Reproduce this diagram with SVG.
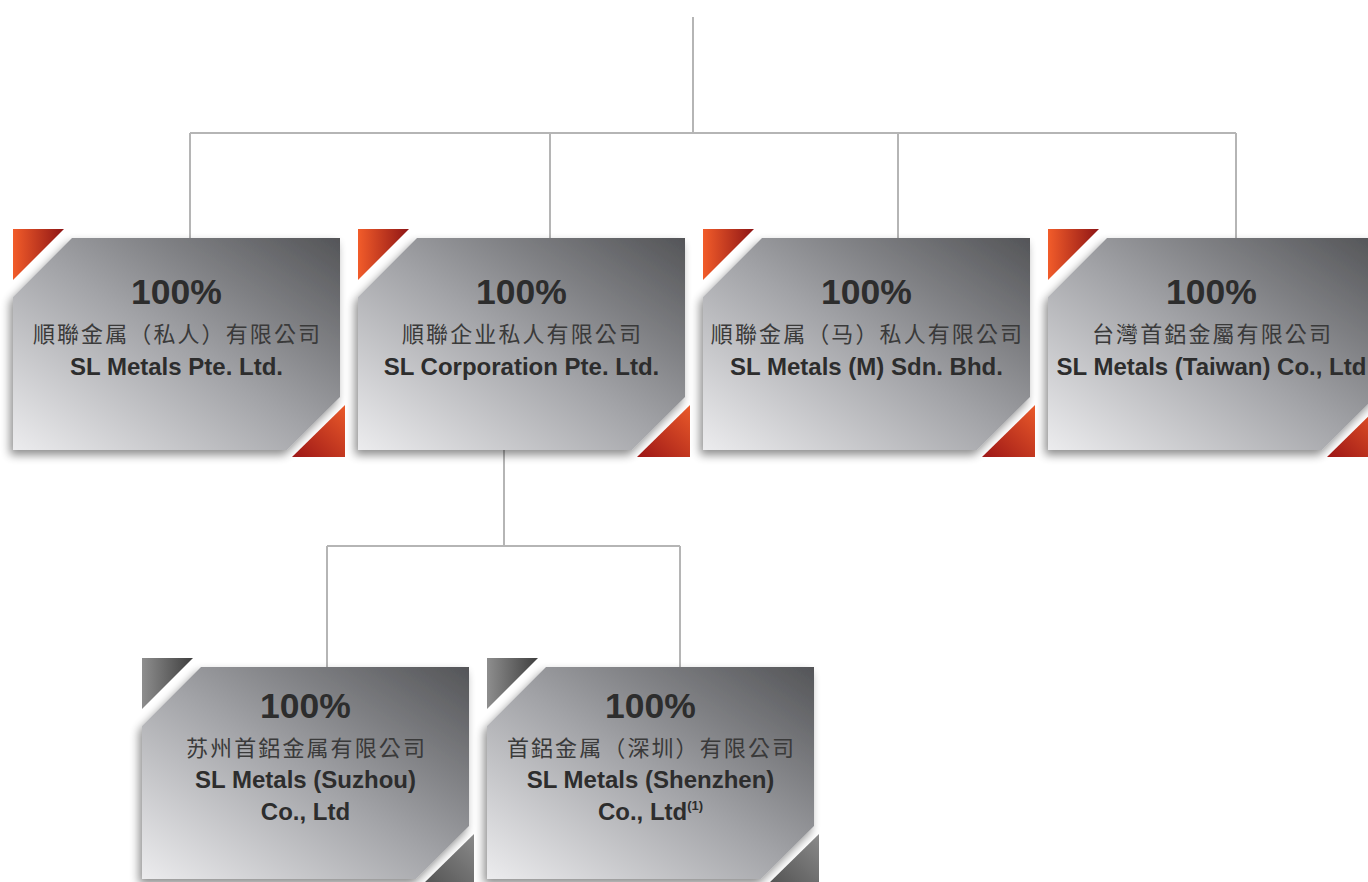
<svg xmlns="http://www.w3.org/2000/svg" xmlns:xlink="http://www.w3.org/1999/xlink" width="1368" height="882" viewBox="0 0 1368 882">
<defs>
<linearGradient id="boxGrad" x1="0" y1="1" x2="1" y2="0">
<stop offset="0" stop-color="#ececee"/>
<stop offset="0.5" stop-color="#a2a3a7"/>
<stop offset="1" stop-color="#545558"/>
</linearGradient>
<linearGradient id="redTL" x1="0" y1="0" x2="1" y2="0">
<stop offset="0" stop-color="#f25c2a"/>
<stop offset="1" stop-color="#8e1515"/>
</linearGradient>
<linearGradient id="redBR" x1="1" y1="0" x2="0" y2="1">
<stop offset="0" stop-color="#ea5a2a"/>
<stop offset="1" stop-color="#9c1616"/>
</linearGradient>
<linearGradient id="grayTL" x1="0" y1="0" x2="1" y2="0">
<stop offset="0" stop-color="#8e8e8e"/>
<stop offset="1" stop-color="#3e3e3e"/>
</linearGradient>
<linearGradient id="grayBR" x1="1" y1="0" x2="0" y2="1">
<stop offset="0" stop-color="#8a8a8a"/>
<stop offset="1" stop-color="#505050"/>
</linearGradient>
<filter id="shadow" x="-10%" y="-10%" width="125%" height="125%">
<feGaussianBlur in="SourceAlpha" stdDeviation="5"/>
<feOffset dx="-3" dy="5" result="b"/>
<feComponentTransfer><feFuncA type="linear" slope="0.45"/></feComponentTransfer>
<feMerge><feMergeNode/><feMergeNode in="SourceGraphic"/></feMerge>
</filter>
<path id="box" d="M59,0 L327,0 L327,159 L274,212 L0,212 L0,59 Z"/>
<path id="triTL" d="M0,-9 L51,-9 L0,42 Z"/>
<path id="triBR" d="M332,167 L332,219 L279,219 Z"/>
</defs>
<style>
.conn { stroke:#b5b5b5; stroke-width:2; fill:none; }
.box { fill:url(#boxGrad); filter:url(#shadow); }
.pct { font-family:"Liberation Sans", Arial, sans-serif; font-weight:bold; font-size:35.5px; fill:#2d2d2d; text-anchor:middle; }
.zh { font-family:"Noto Sans CJK TC","Noto Sans CJK SC",sans-serif; font-size:22px; letter-spacing:2.1px; fill:#3a3a3a; text-anchor:middle; }
.en { font-family:"Liberation Sans", Arial, sans-serif; font-weight:bold; font-size:24px; fill:#2d2d2d; text-anchor:middle; }
.sup { font-size:13px; }
</style>
<rect width="1368" height="882" fill="#ffffff"/>
<g id="connectors">
<path class="conn" d="M693,17 V133 M190,133 H1236 M190,133 V238 M550,133 V238 M898,133 V238 M1236,133 V238"/>
<path class="conn" d="M504,450 V546 M327,546 H680 M327,546 V667 M680,546 V667"/>
</g>
<g id="node-sl-metals-pte" transform="translate(13,238)">
<use xlink:href="#box" class="box"/>
<use xlink:href="#triTL" fill="url(#redTL)"/>
<use xlink:href="#triBR" fill="url(#redBR)"/>
<text class="pct" x="163.5" y="66">100%</text>
<text class="zh" x="164.5" y="104">順聯金属（私人）有限公司</text>
<text class="en" x="163.5" y="137">SL Metals Pte. Ltd.</text>
</g>
<g id="node-sl-corporation" transform="translate(358,238)">
<use xlink:href="#box" class="box"/>
<use xlink:href="#triTL" fill="url(#redTL)"/>
<use xlink:href="#triBR" fill="url(#redBR)"/>
<text class="pct" x="163.5" y="66">100%</text>
<text class="zh" x="164.5" y="104">順聯企业私人有限公司</text>
<text class="en" x="163.5" y="137">SL Corporation Pte. Ltd.</text>
</g>
<g id="node-sl-metals-m" transform="translate(703,238)">
<use xlink:href="#box" class="box"/>
<use xlink:href="#triTL" fill="url(#redTL)"/>
<use xlink:href="#triBR" fill="url(#redBR)"/>
<text class="pct" x="163.5" y="66">100%</text>
<text class="zh" x="164.5" y="104">順聯金属（马）私人有限公司</text>
<text class="en" x="163.5" y="137">SL Metals (M) Sdn. Bhd.</text>
</g>
<g id="node-sl-metals-taiwan" transform="translate(1048,238)">
<use xlink:href="#box" class="box"/>
<use xlink:href="#triTL" fill="url(#redTL)"/>
<use xlink:href="#triBR" fill="url(#redBR)"/>
<text class="pct" x="163.5" y="66">100%</text>
<text class="zh" x="164.5" y="104">台灣首鋁金屬有限公司</text>
<text class="en" x="163.5" y="137">SL Metals (Taiwan) Co., Ltd</text>
</g>
<g id="node-sl-metals-suzhou" transform="translate(142,667)">
<use xlink:href="#box" class="box"/>
<use xlink:href="#triTL" fill="url(#grayTL)"/>
<use xlink:href="#triBR" fill="url(#grayBR)"/>
<text class="pct" x="163.5" y="51">100%</text>
<text class="zh" x="164.5" y="89">苏州首鋁金属有限公司</text>
<text class="en" x="163.5" y="121">SL Metals (Suzhou)</text>
<text class="en" x="163.5" y="153">Co., Ltd</text>
</g>
<g id="node-sl-metals-shenzhen" transform="translate(487,667)">
<use xlink:href="#box" class="box"/>
<use xlink:href="#triTL" fill="url(#grayTL)"/>
<use xlink:href="#triBR" fill="url(#grayBR)"/>
<text class="pct" x="163.5" y="51">100%</text>
<text class="zh" x="164.5" y="89">首鋁金属（深圳）有限公司</text>
<text class="en" x="163.5" y="121">SL Metals (Shenzhen)</text>
<text class="en" x="163.5" y="153">Co., Ltd<tspan class="sup" dy="-10">(1)</tspan></text>
</g>
</svg>
